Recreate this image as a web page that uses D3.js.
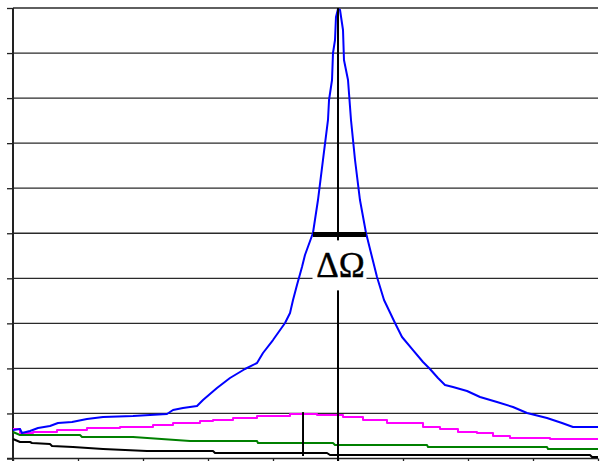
<!DOCTYPE html>
<html>
<head>
<meta charset="utf-8">
<script src="https://cdn.jsdelivr.net/npm/d3@7"></script>
<style>
  html, body { margin: 0; padding: 0; background: #fff; }
  svg { display: block; }
</style>
</head>
<body>
<svg id="chart" width="600" height="461"></svg>
<script>
// ---- data (x: offset from resonance, y: amplitude) ----
const xTicks = [-5, -4, -3, -2, -1, 0, 1, 2, 3, 4];
const yTicks = [0, 1, 2, 3, 4, 5, 6, 7, 8, 9, 10];

const blueX = [-5, -4.892, -4.862, -4.738, -4.615, -4.431, -4.308, -4.092, -3.862, -3.615, -3.154, -2.631, -2.538, -2.385, -2.169, -2.077, -1.862, -1.662, -1.431, -1.246, -1.154, -1.0, -0.815, -0.738, -0.692, -0.631, -0.554, -0.508, -0.385, -0.308, -0.231, -0.154, -0.138, -0.092, -0.077, -0.046, -0.031, 0, 0.031, 0.077, 0.092, 0.154, 0.2, 0.262, 0.338, 0.431, 0.523, 0.6, 0.708, 0.877, 0.985, 1.154, 1.308, 1.415, 1.538, 1.646, 1.769, 1.985, 2.185, 2.446, 2.692, 2.908, 3.215, 3.446, 3.615, 4.0];
const blueY = [0.63, 0.655, 0.566, 0.61, 0.677, 0.721, 0.788, 0.81, 0.877, 0.921, 0.943, 0.988, 1.077, 1.121, 1.165, 1.299, 1.565, 1.787, 1.987, 2.12, 2.342, 2.63, 3.008, 3.23, 3.518, 3.851, 4.251, 4.517, 5.006, 5.738, 6.626, 7.514, 7.958, 8.402, 9.001, 9.29, 9.8, 9.978, 9.956, 9.512, 8.846, 8.402, 7.514, 6.626, 5.738, 5.006, 4.473, 4.029, 3.518, 3.008, 2.697, 2.408, 2.142, 1.987, 1.787, 1.632, 1.587, 1.498, 1.365, 1.254, 1.143, 1.01, 0.899, 0.788, 0.699, 0.699];

const magentaX = [-5, -4.892, -4.692, -4.323, -3.862, -3.354, -2.846, -2.538, -2.123, -1.923, -1.615, -1.246, -0.738, -0.323, 0.077, 0.385, 0.754, 0.954, 1.308, 1.569, 1.846, 2.138, 2.385, 2.646, 3.262, 4.0];
const magentaY = [0.655, 0.566, 0.588, 0.633, 0.677, 0.699, 0.744, 0.788, 0.832, 0.855, 0.899, 0.943, 0.988, 0.966, 0.921, 0.855, 0.788, 0.788, 0.699, 0.655, 0.588, 0.566, 0.499, 0.455, 0.433, 0.433];

const greenX = [-5, -4.892, -3.969, -3.938, -3.154, -2.277, -1.246, -1.231, -0.077, -0.046, 1.369, 1.385, 3.215, 3.231, 4.0];
const greenY = [0.588, 0.522, 0.522, 0.477, 0.477, 0.388, 0.388, 0.344, 0.344, 0.3, 0.3, 0.255, 0.255, 0.211, 0.211];

const blackX = [-5, -4.892, -4.738, -4.708, -4.431, -4.4, -4.077, -3.615, -2.938, -1.923, -1.892, -0.169, -0.123, 3.877, 3.908, 4.0];
const blackY = [0.433, 0.366, 0.366, 0.344, 0.322, 0.277, 0.255, 0.211, 0.166, 0.166, 0.122, 0.122, 0.078, 0.078, 0.033, 0.033];

const markerX = [-0.538];          // short vertical marker
const markerY = [1.03, 0.055];
const centerX = [0];               // resonance line
const widthBar = [-0.385, 0.431];  // ΔΩ span
const widthLevel = [4.975];
const label = "ΔΩ";

// ---- layout ----
const svg = d3.select("#chart");
const x = d3.scaleLinear().domain([-5, 4]).range([13, 598]);
const y = d3.scaleLinear().domain([0, 10]).range([458.5, 8]);

// gridlines
svg.append("g")
  .selectAll("line")
  .data(yTicks.filter(d => d > 0))
  .join("line")
  .attr("x1", x(-5)).attr("x2", x(4))
  .attr("y1", d => y(d)).attr("y2", d => y(d))
  .attr("stroke", "#2a2a2a").attr("stroke-width", 1.3);

// left axis
const yAxis = d3.axisLeft(y).tickValues(yTicks).tickSize(6).tickFormat("");
const gy = svg.append("g").attr("transform", `translate(${x(-5)},0)`).call(yAxis);
gy.select(".domain").attr("stroke", "#222").attr("stroke-width", 2)
  .attr("d", `M0,${y(10)}V461`);
gy.selectAll(".tick line").attr("stroke", "#222").attr("stroke-width", 1.3);

// bottom axis
const xAxis = d3.axisBottom(x).tickValues(xTicks).tickSize(4).tickFormat("");
const gx = svg.append("g").attr("transform", `translate(0,${y(0)})`).call(xAxis);
gx.select(".domain").attr("stroke", "#222").attr("stroke-width", 1.6)
  .attr("d", `M${x(-5) - 6},0H${x(4)}`);
gx.selectAll(".tick line").attr("stroke", "#222").attr("stroke-width", 1.3);

// curves
const line = d3.line().x(d => x(d[0])).y(d => y(d[1]));
const stepLine = d3.line().x(d => x(d[0])).y(d => y(d[1])).curve(d3.curveStepAfter);
const series = [
  { xs: blackX, ys: blackY, color: "#000000", gen: line },
  { xs: greenX, ys: greenY, color: "#008000", gen: line },
  { xs: magentaX, ys: magentaY, color: "#ff00ff", gen: stepLine },
  { xs: blueX, ys: blueY, color: "#0000ff", gen: line }
];
series.forEach(s => {
  svg.append("path")
    .datum(s.xs.map((v, i) => [v, s.ys[i]]))
    .attr("d", s.gen)
    .attr("fill", "none")
    .attr("stroke", s.color)
    .attr("stroke-width", 2)
    .attr("stroke-linejoin", "round");
});

// center resonance line
svg.selectAll(".center").data(centerX).join("line")
  .attr("x1", d => x(d)).attr("x2", d => x(d))
  .attr("y1", y(10)).attr("y2", 461)
  .attr("stroke", "#000").attr("stroke-width", 2);

// short marker
svg.selectAll(".marker").data(markerX).join("line")
  .attr("x1", d => x(d)).attr("x2", d => x(d))
  .attr("y1", y(markerY[0])).attr("y2", y(markerY[1]))
  .attr("stroke", "#000").attr("stroke-width", 2);

// ΔΩ width bar
svg.selectAll(".bar").data(widthLevel).join("line")
  .attr("x1", x(widthBar[0])).attr("x2", x(widthBar[1]))
  .attr("y1", d => y(d)).attr("y2", d => y(d))
  .attr("stroke", "#000").attr("stroke-width", 5);

// label with white box
const lx = x((widthBar[0] + widthBar[1]) / 2);
const ly = y(widthLevel[0]);
svg.append("rect")
  .attr("x", lx - 27).attr("y", ly + 6)
  .attr("width", 54).attr("height", 50)
  .attr("fill", "#fff");
svg.append("text")
  .attr("x", lx + 1).attr("y", ly + 43)
  .attr("text-anchor", "middle")
  .attr("font-family", "'Liberation Serif', 'Times New Roman', serif")
  .attr("font-size", 35)
  .attr("fill", "#000")
  .attr("stroke", "#000").attr("stroke-width", 0.4)
  .text(label);
</script>
</body>
</html>
